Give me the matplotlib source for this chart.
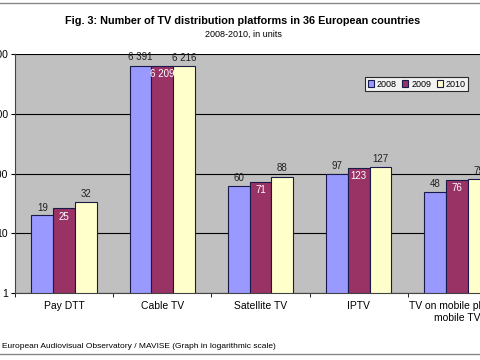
import numpy as np
import matplotlib
matplotlib.use("Agg")
import matplotlib.pyplot as plt
from matplotlib.lines import Line2D

plt.rcParams["font.family"] = ["Liberation Sans", "DejaVu Sans"]

categories = ["Pay DTT", "Cable TV", "Satellite TV", "IPTV", "TV on mobile phone/\nmobile TV"]
years = ["2008", "2009", "2010"]
v2008 = [19, 6391, 60, 97, 48]
v2009 = [25, 6209, 71, 123, 76]
v2010 = [32, 6216, 88, 127, 79]
yticks = [1, 10, 100, 1000, 10000]

colors = ["#9999ff", "#993366", "#ffffcc"]

W, H = 480, 360
fig = plt.figure(figsize=(4.8, 3.6), dpi=100)

# plot area in pixel coordinates (extends past the right edge, like the cropped source)
left, right, top, bottom = 15, 506, 54, 293
ax = fig.add_axes([left / W, 1 - bottom / H, (right - left) / W, (bottom - top) / H])
ax.set_facecolor("#c0c0c0")

x = np.arange(len(categories))
bw = 1 / 4.5
series = [v2008, v2009, v2010]
for i, (vals, c) in enumerate(zip(series, colors)):
    pos = x + (i - 1) * bw
    ax.bar(pos, vals, width=bw, bottom=1, color=c, edgecolor="#1a1a4a",
           linewidth=0.8, label=years[i], zorder=3)
    for p, v in zip(pos, vals):
        txt = f"{v:,}".replace(",", " ")
        if i == 1:
            ax.text(p, v * 0.9, txt, ha="center", va="top", fontsize=7,
                    color="white", zorder=4)
        else:
            ax.text(p, v * 1.15, txt, ha="center", va="bottom", fontsize=7,
                    color="#222222", zorder=4)

ax.set_yscale("log")
ax.set_ylim(1, 10000)
ax.set_xlim(-0.5, len(categories) - 0.5)
ax.set_yticks(yticks)
ax.set_yticklabels([str(t) for t in yticks])
ax.yaxis.set_minor_locator(matplotlib.ticker.NullLocator())
ax.grid(axis="y", which="major", color="black", linewidth=0.8, zorder=1)
ax.set_xticks(x)
ax.set_xticklabels(categories)
ax.set_xticks(np.arange(len(categories) + 1) - 0.5, minor=True)
ax.tick_params(axis="x", which="major", length=0, labelsize=7.5, pad=6)
ax.tick_params(axis="x", which="minor", length=3, direction="out")
ax.tick_params(axis="y", labelsize=7.5, length=3, pad=2)
for s in ["top", "right"]:
    ax.spines[s].set_visible(False)
ax.spines["left"].set_color("#444444")
ax.spines["bottom"].set_color("#444444")

leg = ax.legend(loc="upper left", bbox_to_anchor=((365 - left) / (right - left), 1 - (77 - top) / (bottom - top)),
                ncol=3, fontsize=6.5, frameon=True, fancybox=False, handlelength=0.7,
                handleheight=0.7, handletextpad=0.3, columnspacing=0.6,
                borderpad=0.3, borderaxespad=0)
leg.get_frame().set_edgecolor("black")
leg.get_frame().set_linewidth(0.8)

fig.text(243 / W, 1 - 21 / H, "Fig. 3: Number of TV distribution platforms in 36 European countries",
         ha="center", va="center", fontsize=7.8, fontweight="bold")
fig.text(243 / W, 1 - 34 / H, "2008-2010, in units", ha="center", va="center", fontsize=6.5)
fig.text(2 / W, 1 - 347 / H, "European Audiovisual Observatory / MAVISE (Graph in logarithmic scale)",
         ha="left", va="center", fontsize=6)

fig.add_artist(Line2D([0, 1], [1 - 3 / H, 1 - 3 / H], color="#888888", linewidth=1))
fig.add_artist(Line2D([0, 1], [1 - 354 / H, 1 - 354 / H], color="#888888", linewidth=1))

fig.savefig("out.png", dpi=100)
